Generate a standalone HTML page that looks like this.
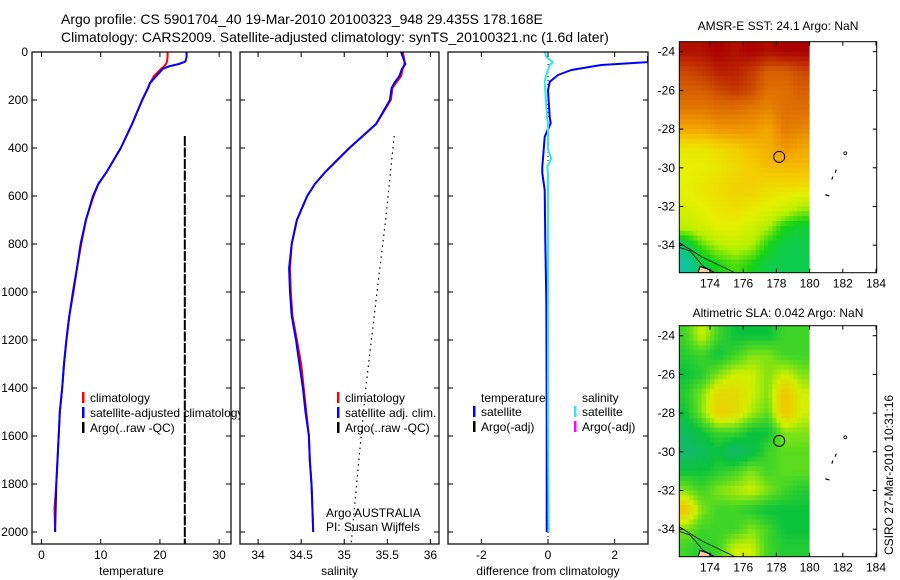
<!DOCTYPE html>
<html><head><meta charset="utf-8">
<style>
html,body{margin:0;padding:0;background:#fff;}
svg{display:block;font-family:"Liberation Sans",sans-serif;}
text{fill:#000;}
</style></head>
<body>
<svg id="fig" width="900" height="580" viewBox="0 0 900 580" xmlns="http://www.w3.org/2000/svg">
<text x="61" y="24" font-size="14">Argo profile: CS 5901704_40 19-Mar-2010 20100323_948 29.435S 178.168E</text>
<text x="61" y="42" font-size="14">Climatology: CARS2009. Satellite-adjusted climatology: synTS_20100321.nc (1.6d later)</text>
<text x="778" y="30" font-size="12" text-anchor="middle">AMSR-E SST: 24.1 Argo: NaN</text>
<text x="778" y="317" font-size="12" text-anchor="middle">Altimetric SLA: 0.042 Argo: NaN</text>
<text transform="translate(893,475) rotate(-90)" font-size="12" text-anchor="middle">CSIRO 27-Mar-2010 10:31:16</text>
</svg>
<script>
// ---------- data ----------
const depthTicks = [0,200,400,600,800,1000,1200,1400,1600,1800,2000];
const tempTicks = [0,10,20,30];
const salTicks = [34,34.5,35,35.5,36];
const diffTicks = [-2,0,2];
const lonTicks = [174,176,178,180,182,184];
const latTicks = [-24,-26,-28,-30,-32,-34];

const depths = [0,20,40,50,60,70,100,130,150,200,300,400,500,550,600,700,800,900,1000,1100,1200,1300,1400,1500,1600,1700,1800,1900,2000];
const tempClim = [21.3,21.3,21.2,21.0,20.7,20.2,19.0,18.3,18.0,17.0,15.3,13.4,11.0,9.6,8.8,7.5,6.7,6.0,5.4,4.7,4.2,3.8,3.5,3.1,2.9,2.7,2.5,2.2,2.3];
const tempSat  = [24.5,24.5,24.3,23.2,21.5,20.5,19.4,18.3,18.0,17.0,15.3,13.4,11.0,9.6,8.7,7.5,6.6,6.0,5.3,4.7,4.2,3.8,3.5,3.1,2.9,2.7,2.5,2.4,2.3];
const salClim = [35.68,35.69,35.70,35.70,35.69,35.68,35.66,35.60,35.56,35.54,35.37,35.06,34.78,34.66,34.57,34.45,34.39,34.37,34.38,34.40,34.45,34.50,34.53,34.56,34.59,34.60,34.62,34.63,34.64];
const salSat  = [35.66,35.68,35.70,35.71,35.69,35.67,35.64,35.58,35.55,35.53,35.37,35.06,34.78,34.66,34.57,34.45,34.39,34.36,34.37,34.39,34.44,34.48,34.52,34.55,34.59,34.60,34.62,34.63,34.64];
const argoTempDepths = [350,2050];
const argoTemp = [24.2,24.2];
const argoSalDepths = [350,700,1000,1400,1700,2050];
const argoSal = [35.58,35.48,35.38,35.25,35.17,35.08];
const diffDepths = [0,20,42,54,75,96,124,160,270,297,353,408,443,478,505,575,783,1033,1500,2000];
const diffTemp = [3.2,3.0,3.0,1.6,0.7,0.3,0.05,0.0,0.05,0.08,-0.1,-0.13,-0.15,-0.17,-0.17,-0.1,-0.08,-0.05,-0.04,-0.04];
const diffSal  = [-0.1,-0.05,0.15,0.05,0.0,-0.05,-0.1,-0.08,-0.03,0.0,0.0,0.0,0.1,-0.02,0.0,0.0,0.0,0.0,0.0,0.02];

const mapLons = [172,173,174,175,176,177,178,179];
const mapLats = [-24,-25,-26,-27,-28,-29,-30,-31,-32,-33,-34,-35];
const sstGrid = [
[0.95,0.95,0.97,0.95,0.97,0.95,0.97,0.97],
[0.88,0.90,0.93,0.93,0.90,0.85,0.85,0.88],
[0.85,0.85,0.88,0.90,0.88,0.82,0.82,0.85],
[0.80,0.80,0.82,0.82,0.80,0.78,0.82,0.82],
[0.72,0.72,0.75,0.75,0.75,0.72,0.80,0.78],
[0.60,0.60,0.62,0.65,0.68,0.70,0.75,0.72],
[0.58,0.58,0.60,0.62,0.65,0.68,0.68,0.68],
[0.58,0.60,0.62,0.64,0.65,0.62,0.62,0.62],
[0.56,0.58,0.60,0.62,0.60,0.58,0.55,0.50],
[0.52,0.55,0.58,0.58,0.55,0.50,0.42,0.40],
[0.36,0.45,0.50,0.52,0.50,0.42,0.38,0.38],
[0.30,0.38,0.42,0.45,0.42,0.38,0.38,0.38]];
const slaGrid = [
[0.40,0.60,0.40,0.30,0.30,0.30,0.40,0.40],
[0.35,0.40,0.30,0.40,0.50,0.50,0.40,0.40],
[0.30,0.35,0.50,0.60,0.60,0.50,0.60,0.50],
[0.35,0.50,0.70,0.70,0.60,0.50,0.80,0.60],
[0.30,0.50,0.75,0.70,0.55,0.45,0.80,0.60],
[0.20,0.30,0.40,0.40,0.30,0.30,0.50,0.50],
[0.15,0.20,0.30,0.15,0.25,0.40,0.45,0.45],
[0.30,0.30,0.35,0.40,0.50,0.40,0.45,0.45],
[0.50,0.40,0.50,0.55,0.60,0.50,0.40,0.35],
[0.80,0.50,0.40,0.40,0.35,0.30,0.30,0.30],
[0.50,0.40,0.40,0.40,0.50,0.40,0.30,0.30],
[0.40,0.35,0.40,0.60,0.60,0.40,0.35,0.35]];
const argoLon = 178.168, argoLat = -29.435;

// ---------- helpers ----------
const svg = document.getElementById('fig');
const NS = 'http://www.w3.org/2000/svg';
function mk(tag, attrs, parent){
  const e = document.createElementNS(NS, tag);
  for (const k in attrs) e.setAttribute(k, attrs[k]);
  (parent||svg).appendChild(e);
  return e;
}
const defs = mk('defs',{});
const yD = d => 52 + d*0.24;
const Y0 = 52, Y1 = 544;

function panel(name, x0, x1, vmin, vmax){
  const sx = v => x0 + (v - vmin)/(vmax - vmin)*(x1 - x0);
  const r = mk('rect',{x:x0,y:Y0,width:x1-x0,height:Y1-Y0,fill:'#fff',stroke:'none'});
  
  
  const cp = mk('clipPath',{id:name+'-clip'},defs);
  mk('rect',{x:x0,y:Y0,width:x1-x0,height:Y1-Y0},cp);
  return sx;
}
function frame(name, x0, x1, sx, ticks, xlabel, showY){
  const g = mk('g',{});
  
  
  mk('rect',{x:x0,y:Y0,width:x1-x0,height:Y1-Y0,fill:'none',stroke:'#000','stroke-width':1.2},g);
  depthTicks.forEach(d=>{
    const y = yD(d);
    mk('line',{x1:x0,y1:y,x2:x0+5,y2:y,stroke:'#000'},g);
    mk('line',{x1:x1,y1:y,x2:x1-5,y2:y,stroke:'#000'},g);
    if (showY){
      const t = mk('text',{x:x0-4,y:y+4,'font-size':12,'text-anchor':'end'},g);
      t.textContent = d;
      
      
    }
  });
  ticks.forEach(v=>{
    const x = sx(v);
    mk('line',{x1:x,y1:Y0,x2:x,y2:Y0+5,stroke:'#000'},g);
    mk('line',{x1:x,y1:Y1,x2:x,y2:Y1-5,stroke:'#000'},g);
    const t = mk('text',{x:x,y:559,'font-size':12,'text-anchor':'middle'},g);
    t.textContent = v;
    
    
  });
  const lab = mk('text',{x:(x0+x1)/2,y:575,'font-size':12,'text-anchor':'middle'},g);
  lab.textContent = xlabel;
  
  
}
function line(name, clip, sx, vals, dps, color, w, dash){
  const pts = vals.map((v,i)=>sx(v).toFixed(1)+','+yD(dps[i]).toFixed(1)).join(' ');
  const a = {points:pts,fill:'none',stroke:color,'stroke-width':w,'stroke-linejoin':'round','clip-path':'url(#'+clip+'-clip)'};
  if (dash) a['stroke-dasharray'] = dash;
  const p = mk('polyline',a);
  
  
  return p;
}
function legend(name, x, y, color, label){
  const g = mk('g',{});
  
  
  mk('rect',{x:x,y:y-10,width:2.5,height:11,fill:color},g);
  const t = mk('text',{x:x+8,y:y,'font-size':12},g);
  t.textContent = label;
}
function txt(name, x, y, s){
  const t = mk('text',{x:x,y:y,'font-size':12});
  t.textContent = s;
  
  
}

// ---------- panel 1: temperature ----------
const sT = panel('temperature', 32, 231, -1.6, 32);
line('argo-temperature-profile', 'temperature', sT, argoTemp, argoTempDepths, '#000', 2, '10,1.5');
line('climatology-temperature-line', 'temperature', sT, tempClim, depths, '#f00', 2);
line('satellite-temperature-line', 'temperature', sT, tempSat, depths, '#00f', 2);
legend('legend-climatology', 82, 402, '#f00', 'climatology');
legend('legend-satellite-adjusted', 82, 417, '#00f', 'satellite-adjusted climatology');
legend('legend-argo-raw', 82, 432, '#000', 'Argo(..raw -QC)');

// ---------- panel 2: salinity ----------
const sS = panel('salinity', 240, 439, 33.79, 36.1);
line('argo-salinity-profile', 'salinity', sS, argoSal, argoSalDepths, '#000', 1.2, '1.5,4');
line('climatology-salinity-line', 'salinity', sS, salClim, depths, '#f00', 2);
line('satellite-salinity-line', 'salinity', sS, salSat, depths, '#00f', 2);
legend('legend-sal-climatology', 337, 402, '#f00', 'climatology');
legend('legend-sal-satellite', 337, 417, '#00f', 'satellite adj. clim.');
legend('legend-sal-argo', 337, 432, '#000', 'Argo(..raw -QC)');
txt('argo-country-label', 326, 517, 'Argo AUSTRALIA');
txt('pi-name-label', 326, 531, 'PI: Susan Wijffels');

// ---------- panel 3: difference ----------
const sD = panel('difference', 448, 648, -3, 3);
line('zero-reference-line', 'difference', sD, [0,0], [50,2050], '#000', 1, '1,3');
line('temperature-difference-line', 'difference', sD, diffTemp, diffDepths, '#00f', 2);
line('salinity-difference-line', 'difference', sD, diffSal, diffDepths, '#2ee8e8', 2);
txt('legend-temperature-header', 481, 402, 'temperature');
legend('legend-temp-satellite', 473, 416, '#00f', 'satellite');
legend('legend-temp-argo', 473, 431, '#000', 'Argo(-adj)');
txt('legend-salinity-header', 582, 402, 'salinity');
legend('legend-sal-diff-satellite', 574, 416, '#2ee8e8', 'satellite');
legend('legend-sal-diff-argo', 574, 431, '#f0f', 'Argo(-adj)');

frame('temperature', 32, 231, sT, tempTicks, 'temperature', true);
frame('salinity', 240, 439, sS, salTicks, 'salinity', false);
frame('difference', 448, 648, sD, diffTicks, 'difference from climatology', false);

// ---------- maps ----------
function lerpColor(stops, v){
  let c = stops[stops.length-1][1];
  if (v <= stops[0][0]) c = stops[0][1];
  else {
    for (let i=1;i<stops.length;i++){
      if (v <= stops[i][0]){
        const [a,ca] = stops[i-1], [b,cb] = stops[i];
        const t = (v-a)/(b-a);
        c = ca.map((x,j)=>x+(cb[j]-x)*t);
        break;
      }
    }
  }
  return 'rgb('+c.map(Math.round).join(',')+')';
}
function sampleGrid(grid, lon, lat){
  // bilinear interpolation on cell centres (lon+0.5, lat)
  let fj = lon - (mapLons[0]+0.5), fi = (mapLats[0] - lat);
  fj = Math.max(0, Math.min(mapLons.length-1, fj));
  fi = Math.max(0, Math.min(mapLats.length-1, fi));
  const j0 = Math.floor(fj), i0 = Math.floor(fi);
  const j1 = Math.min(j0+1, mapLons.length-1), i1 = Math.min(i0+1, mapLats.length-1);
  const tj = fj-j0, ti = fi-i0;
  const a = grid[i0][j0]*(1-tj)+grid[i0][j1]*tj;
  const b = grid[i1][j0]*(1-tj)+grid[i1][j1]*tj;
  return a*(1-ti)+b*ti;
}
const sstStops = [[0.25,[20,190,210]],[0.35,[10,200,120]],[0.42,[20,210,20]],[0.5,[180,240,0]],[0.58,[230,240,0]],[0.66,[245,200,0]],[0.75,[240,150,0]],[0.85,[215,95,0]],[0.97,[170,0,0]]];
const slaStops = [[0.15,[20,185,110]],[0.3,[10,195,60]],[0.45,[90,220,30]],[0.6,[210,240,0]],[0.8,[245,195,0]]];
const lonToX = l => 679.3 + (l-172.15)*16.6;
function mapPanel(name, top, grid, stops){
  const latToY = v => top + 10 + (-24 - v)*19.35;
  const bot = top + 231;
  const g = mk('g',{});
  
  
  const clipId = name+'-clip';
  const cp = mk('clipPath',{id:clipId},defs);
  mk('rect',{x:679.3,y:top,width:197.4,height:231},cp);
  const cells = mk('g',{'clip-path':'url(#'+clipId+')'},g);
  const step = 0.25;
  for (let lat = -23.25; lat > -35.6; lat -= step){
    for (let lon = 172; lon < 180; lon += step){
      const v = sampleGrid(grid, lon+step/2, lat-step/2);
      const x = lonToX(lon), x2 = lonToX(lon+step);
      const y = latToY(lat), y2 = latToY(lat-step);
      const c = mk('rect',{x:x.toFixed(1),y:y.toFixed(1),width:(x2-x+0.5).toFixed(1),height:(y2-y+0.5).toFixed(1),fill:lerpColor(stops,v)},cells);
      
      
    }
  }
  mk('rect',{x:lonToX(180),y:top,width:80,height:231,fill:'#fff'},cells);
  // land and coast (bottom-left)
  mk('path',{d:'M'+lonToX(173.4)+','+latToY(-35.1)+' l6,2 l8,4 l6,5 l2,'+(bot-latToY(-35.1)-11)+' l-24,0 z',fill:'#f8c8a0',stroke:'#000','stroke-width':1},cells);
  mk('path',{d:'M'+lonToX(172.1)+','+latToY(-33.85)+' L'+lonToX(173.5)+','+latToY(-34.6)+' L'+lonToX(175.5)+','+(bot)+'',fill:'none',stroke:'#000','stroke-width':0.8},cells);
  mk('path',{d:'M'+lonToX(172.1)+','+latToY(-34.1)+' L'+lonToX(172.8)+','+latToY(-34.3)+' L'+lonToX(173.6)+','+latToY(-35.1)+' L'+lonToX(174.3)+','+bot,fill:'none',stroke:'#000','stroke-width':0.8},cells);
  // islands
  mk('circle',{cx:lonToX(182.15),cy:latToY(-29.25),r:1.5,fill:'none',stroke:'#000','stroke-width':0.8},g);
  mk('path',{d:'M'+lonToX(181.6)+','+latToY(-30.1)+' l-1,3 M'+lonToX(181.4)+','+latToY(-30.45)+' l-1,3 M'+lonToX(180.95)+','+latToY(-31.4)+' l4,1',stroke:'#000','stroke-width':1.2,fill:'none'},g);
  const c = mk('circle',{cx:lonToX(argoLon),cy:latToY(argoLat),r:5.5,fill:'none',stroke:'#000','stroke-width':1},g);
  
  
  mk('rect',{x:679.3,y:top,width:197.4,height:231,fill:'none',stroke:'#000','stroke-width':1},g);
  lonTicks.forEach(l=>{
    const x = lonToX(l);
    mk('line',{x1:x,y1:top,x2:x,y2:top+4,stroke:'#000'},g);
    mk('line',{x1:x,y1:bot,x2:x,y2:bot-4,stroke:'#000'},g);
    const t = mk('text',{x:x,y:bot+15,'font-size':12,'text-anchor':'middle'},g);
    t.textContent = l;
  });
  latTicks.forEach(v=>{
    const y = latToY(v);
    mk('line',{x1:679.3,y1:y,x2:683.3,y2:y,stroke:'#000'},g);
    mk('line',{x1:876.7,y1:y,x2:872.7,y2:y,stroke:'#000'},g);
    const t = mk('text',{x:675,y:y+4,'font-size':12,'text-anchor':'end'},g);
    t.textContent = v;
  });
}
mapPanel('sst-map', 41.7, sstGrid, sstStops);
mapPanel('sla-map', 325.7, slaGrid, slaStops);
</script>
</body></html>
